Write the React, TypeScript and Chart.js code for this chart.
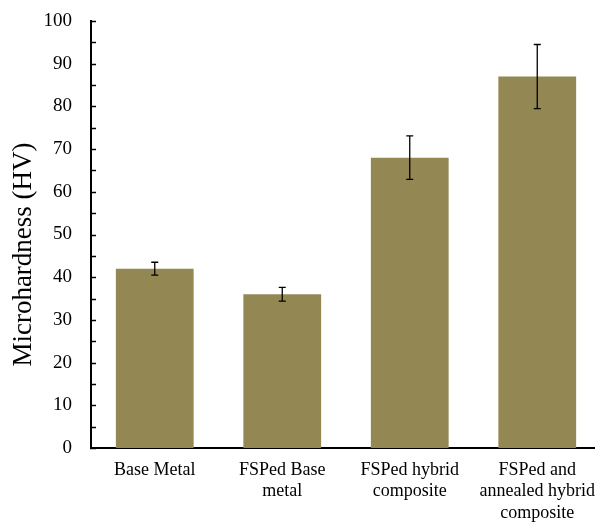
import { useEffect, useRef } from "react";
import { Chart, registerables } from "chart.js";

Chart.register(...registerables);

const categories: string[][] = [
  ["Base Metal"],
  ["FSPed Base", "metal"],
  ["FSPed hybrid", "composite"],
  ["FSPed and", "annealed hybrid", "composite"],
];
const hardness = [42, 36, 68, 87];
const hardnessError = [1.5, 1.6, 5.1, 7.5];
const yMin = 0;
const yMax = 100;
const yMajorStep = 10;
const yMinorStep = 5;
const yTitle = "Microhardness (HV)";

const FONT = "'Liberation Serif', 'Times New Roman', serif";
const BAR_COLOR = "rgb(147,135,83)";

const errorBarPlugin = {
  id: "errorBars",
  afterDatasetsDraw(chart: any) {
    const ctx = chart.ctx;
    const yScale = chart.scales.y;
    const meta = chart.getDatasetMeta(0);
    ctx.save();
    ctx.strokeStyle = "#000";
    ctx.lineWidth = 1.3;
    meta.data.forEach((bar: any, i: number) => {
      const v = hardness[i];
      const e = hardnessError[i];
      const x = bar.x;
      const yt = yScale.getPixelForValue(v + e);
      const yb = yScale.getPixelForValue(v - e);
      ctx.beginPath();
      ctx.moveTo(x, yt);
      ctx.lineTo(x, yb);
      ctx.moveTo(x - 3.5, yt);
      ctx.lineTo(x + 3.5, yt);
      ctx.moveTo(x - 3.5, yb);
      ctx.lineTo(x + 3.5, yb);
      ctx.stroke();
    });
    ctx.restore();
  },
};

const axisExtrasPlugin = {
  id: "axisExtras",
  afterDraw(chart: any) {
    const ctx = chart.ctx;
    const yScale = chart.scales.y;
    const left = chart.chartArea.left;
    ctx.save();
    ctx.strokeStyle = "#000";
    ctx.lineWidth = 1.5;
    for (let v = yMin; v <= yMax; v += yMinorStep) {
      const y = Math.round(yScale.getPixelForValue(v)) + 0.5;
      ctx.beginPath();
      ctx.moveTo(left - 1, y);
      ctx.lineTo(left + 5, y);
      ctx.stroke();
    }
    // y-axis title
    const midY = (chart.chartArea.top + chart.chartArea.bottom) / 2 + 20;
    ctx.translate(24, midY);
    ctx.rotate(-Math.PI / 2);
    ctx.fillStyle = "#000";
    ctx.font = `27px ${FONT}`;
    ctx.textAlign = "center";
    ctx.textBaseline = "middle";
    ctx.fillText(yTitle, 0, 0);
    ctx.restore();
  },
};

export default function App() {
  const ref = useRef<HTMLCanvasElement>(null);
  useEffect(() => {
    if (!ref.current) return;
    const chart = new Chart(ref.current, {
      type: "bar",
      data: {
        labels: categories,
        datasets: [
          {
            data: hardness,
            backgroundColor: BAR_COLOR,
            borderWidth: 0,
            barPercentage: 0.61,
            categoryPercentage: 1,
          },
        ],
      },
      options: {
        responsive: false,
        animation: false,
        devicePixelRatio: 1,
        layout: { padding: { top: 21, right: 0, left: 0, bottom: 0 } },
        plugins: {
          legend: { display: false },
          tooltip: { enabled: false },
        },
        scales: {
          x: {
            grid: { display: false, drawTicks: false },
            border: { display: true, color: "#000", width: 2 },
            ticks: {
              color: "#000",
              padding: 11,
              maxRotation: 0,
              autoSkip: false,
              font: { family: FONT, size: 18, lineHeight: 1.2 },
            },
            afterFit(scale: any) {
              scale.height = 75;
              scale.paddingLeft = 0;
              scale.paddingRight = 0;
            },
          },
          y: {
            min: yMin,
            max: yMax,
            grid: { display: false, drawTicks: false },
            border: { display: true, color: "#000", width: 2 },
            ticks: {
              stepSize: yMinorStep,
              color: "#000",
              padding: 19,
              font: { family: FONT, size: 19 },
              callback: (v: any) => (Number(v) % yMajorStep === 0 ? String(v) : ""),
            },
            afterFit(scale: any) {
              scale.width = 91;
              scale.paddingTop = 0;
              scale.paddingBottom = 0;
            },
          },
        },
      },
      plugins: [errorBarPlugin, axisExtrasPlugin],
    });
    return () => chart.destroy();
  }, []);
  return (
    <div
      style={{
        position: "fixed",
        left: 0,
        top: 0,
        width: 595,
        height: 523,
        overflow: "hidden",
        background: "#fff",
      }}
    >
      <canvas ref={ref} width={601} height={523} style={{ display: "block" }} />
    </div>
  );
}
